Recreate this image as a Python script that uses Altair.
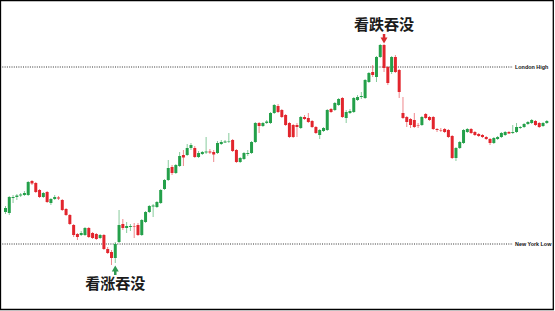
import altair as alt
import pandas as pd

# OHLC series, one entry per candle
opens = [88, 87, 102, 103, 104.5, 105, 105, 119, 117, 110,
         103, 108, 97, 101, 102.5, 100, 91, 85, 75, 66,
         65, 65, 72, 67, 66, 62, 65, 51, 48, 42,
         58, 76, 72, 73, 73.5, 75, 65, 78, 88, 93.5,
         93, 97, 111, 120, 133, 127, 134, 145, 145, 152,
         152, 143, 146, 147.5, 148.5, 148, 147, 156, 157.5, 158.5,
         160, 150, 138, 141, 146, 147, 158, 177, 174, 177,
         177, 187, 194, 190, 185, 177, 175, 175, 172, 183,
         182, 179, 173, 165, 169, 170, 191, 190, 195, 202,
         182, 187, 188, 200, 203, 202, 218, 228, 223, 243,
         255, 233, 228, 243, 230, 187, 183, 181, 180, 175,
         175, 186, 183, 183, 171, 170, 171, 170, 164, 142,
         152, 157, 168, 171, 168, 166, 165, 163, 161, 157,
         161, 163, 165, 168, 167, 168, 172, 173, 176, 177,
         179, 177, 174, 177]
highs = [94, 104, 105, 106, 107, 109, 119, 120, 118, 111,
         108, 109, 102, 105, 104, 101, 92, 86, 76, 67,
         69, 73, 73, 68, 67, 66, 66, 53, 50, 58,
         90, 81, 78, 76, 77, 77, 81, 89, 95, 96,
         99, 111, 121, 140, 135, 136, 148, 150, 156, 157,
         154, 149, 149, 163, 151, 150, 159, 160, 160, 167,
         161, 151, 143, 148, 150, 159, 178, 178, 178, 180,
         188, 196, 196, 191, 186, 178, 176, 177, 184, 185,
         187, 180, 174, 171, 173, 191, 192, 198, 202, 203,
         190, 191, 203, 205, 208, 221, 228, 235, 244, 256,
         256, 234, 244, 245, 231, 203, 184, 182, 187, 177,
         184, 187, 184, 184, 172, 172, 172, 171, 165, 153,
         159, 171, 172, 172, 169, 167, 166, 164, 162, 163,
         164, 168, 169, 169, 175, 177, 174, 177, 179, 181,
         180, 178, 178, 180]
lows = [86, 85, 97, 100, 103, 104, 104, 115, 107, 102,
        102, 97, 95, 100, 100, 89, 84, 75, 63, 60,
        64, 64, 62, 61, 60, 61, 50, 46, 35, 37,
        57, 70, 67, 69, 62, 64, 64, 77, 87, 83,
        92, 96, 110, 119, 125, 126, 133, 134, 144, 150,
        142, 142, 145, 146, 146, 138, 146, 155, 157, 157,
        148, 137, 137, 140, 144, 146, 157, 167, 173, 176,
        176, 186, 187, 182, 174, 162, 162, 163, 171, 180,
        177, 172, 166, 161, 168, 169, 187, 189, 194, 182,
        177, 186, 187, 199, 201, 201, 217, 223, 218, 242,
        228, 215, 226, 227, 202, 181, 173, 172, 172, 172,
        174, 181, 179, 170, 168, 168, 167, 162, 141, 139,
        151, 156, 167, 166, 164, 163, 162, 160, 155, 156,
        160, 162, 164, 166, 166, 167, 171, 172, 175, 176,
        174, 172, 173, 176]
closes = [92, 103, 103, 104.5, 105.5, 107, 118, 116.5, 108, 103,
          107, 98, 101, 103, 101.5, 90, 85, 76, 65, 63,
          67, 72, 63, 62, 61, 65, 51, 47, 42, 56,
          75, 72, 74, 74, 73, 65, 80, 88, 94, 94.5,
          98, 110, 120, 132, 127, 135, 144, 142.5, 152, 155,
          143, 147, 148, 148.5, 147.5, 145.5, 157, 158, 158.5, 159,
          149, 138, 142, 147, 147, 158, 177, 174, 177, 178.5,
          187, 195, 188, 183, 175, 163, 163, 173, 183, 181,
          178, 173, 167, 170, 172, 190, 188, 197, 201, 183,
          188, 189, 202, 203, 204, 220, 227, 225, 243, 255,
          232, 217, 243, 228, 208, 182, 178, 175, 173, 174.5,
          183, 182, 180, 171, 170, 169.5, 168, 163, 142, 152,
          158, 170, 171, 167, 165, 164, 163, 161, 157, 162,
          163, 167, 168, 166.5, 168, 173, 173, 176, 178, 180,
          175, 173, 177, 179]

# Reference levels
level_names = ["London High", "New York Low"]
level_prices = [233, 56]

# Engulfing pattern annotations
pattern_names = ["看涨吞没", "看跌吞没"]
pattern_bars = [29, 100]
pattern_text_prices = [16, 275]
pattern_arrow_heads = [31.5, 259.5]
pattern_shaft_from = [29, 266]
pattern_shaft_to = [25, 262]
pattern_shapes = ["triangle-up", "triangle-down"]
pattern_colors = ["#2f9a52", "#d92b2f"]

UP = "#24a04a"
DOWN = "#e2252d"

candles = pd.DataFrame({
    "bar": list(range(len(opens))),
    "open": opens, "high": highs, "low": lows, "close": closes,
})
candles["dir"] = ["up" if c >= o else "down" for o, c in zip(opens, closes)]

levels = pd.DataFrame({"name": level_names, "price": level_prices})
patterns = pd.DataFrame({
    "name": pattern_names, "bar": pattern_bars,
    "text_price": pattern_text_prices, "head": pattern_arrow_heads,
    "s0": pattern_shaft_from, "s1": pattern_shaft_to,
    "shape": pattern_shapes, "color": pattern_colors,
})

xs = alt.Scale(domain=[-0.13, 143.84], nice=False, zero=False)
ys = alt.Scale(domain=[-11, 300], nice=False, zero=False)
col = alt.Color("dir:N", scale=alt.Scale(domain=["up", "down"], range=[UP, DOWN]), legend=None)

base = alt.Chart(candles)
wicks = base.mark_rule(strokeWidth=1, opacity=0.55).encode(
    x=alt.X("bar:Q", scale=xs, axis=None),
    y=alt.Y("low:Q", scale=ys, axis=None),
    y2="high:Q",
    color=col,
)
bodies = base.mark_bar(size=3).encode(
    x=alt.X("bar:Q", scale=xs, axis=None),
    y=alt.Y("open:Q", scale=ys, axis=None),
    y2="close:Q",
    color=col,
)

lvl = alt.Chart(levels)
level_lines = lvl.mark_rule(strokeDash=[1, 1.3], strokeWidth=1, color="#333333").encode(
    y=alt.Y("price:Q", scale=ys, axis=None),
    x=alt.value(0), x2=alt.value(513),
)
level_text = lvl.mark_text(align="left", baseline="middle", fontSize=5.4, fontWeight="bold",
                           font="Liberation Sans", color="#111111").encode(
    y=alt.Y("price:Q", scale=ys, axis=None),
    x=alt.value(515),
    text="name:N",
)

pat = alt.Chart(patterns)
pat_text = pat.mark_text(align="center", baseline="middle", fontSize=15, fontWeight="bold",
                         font="Noto Sans CJK SC", color="#1b1b1b").encode(
    x=alt.X("bar:Q", scale=xs, axis=None),
    y=alt.Y("text_price:Q", scale=ys, axis=None),
    text="name:N",
)
pat_shaft = pat.mark_rule(strokeWidth=2.5).encode(
    x=alt.X("bar:Q", scale=xs, axis=None),
    y=alt.Y("s0:Q", scale=ys, axis=None),
    y2="s1:Q",
    color=alt.Color("color:N", scale=None),
)
pat_head = pat.mark_point(filled=True, opacity=1, size=48).encode(
    x=alt.X("bar:Q", scale=xs, axis=None),
    y=alt.Y("head:Q", scale=ys, axis=None),
    shape=alt.Shape("shape:N", scale=None),
    color=alt.Color("color:N", scale=None),
)

frame = alt.Chart(pd.DataFrame({"k": [0]})).mark_rect(
    filled=False, stroke="black", strokeWidth=1.3
).encode(
    x=alt.value(0.5), x2=alt.value(553.3), y=alt.value(0.5), y2=alt.value(309.5)
)

chart = alt.layer(
    level_lines, level_text, wicks, bodies, pat_shaft, pat_head, pat_text, frame
).properties(
    width=555, height=311, autosize=alt.AutoSizeParams(type="none"), padding=0,
    background="white",
).configure_view(stroke=None)

chart.save("out.html", embed_options={"renderer": "svg", "actions": False})
